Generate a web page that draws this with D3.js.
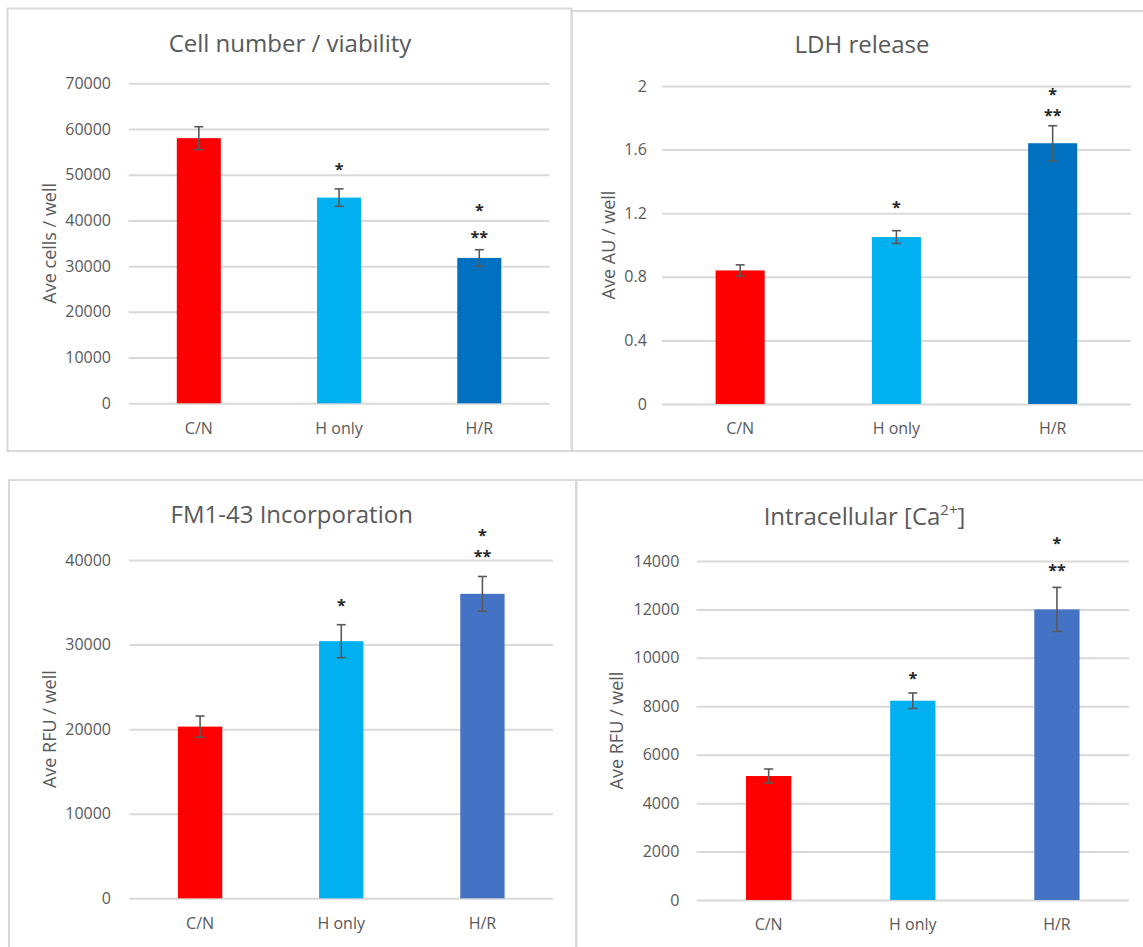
<!DOCTYPE html>
<html>
  <head>
    <meta charset="utf-8" />
    <script src="https://d3js.org/d3.v7.min.js"></script>
    <style>
      body { margin: 0; background: #fff; }
      text { font-family: "Open Sans", sans-serif; }
    </style>
  </head>
  <body>
    <svg id="chart" width="1143" height="947"></svg>
    <script>
      // data
      const categories = ["C/N", "H only", "H/R"];

      const cellValues = [58000, 45000, 31800];
      const cellErrors = [2500, 1900, 1800];
      const cellTicks = [0, 10000, 20000, 30000, 40000, 50000, 60000, 70000];
      const cellStars = [["H only", "*", 51500], ["H/R", "*", 42700], ["H/R", "**", 36600]];

      const ldhValues = [0.84, 1.05, 1.64];
      const ldhErrors = [0.035, 0.04, 0.11];
      const ldhTicks = [0, 0.4, 0.8, 1.2, 1.6, 2];
      const ldhStars = [["H only", "*", 1.25], ["H/R", "*", 1.96], ["H/R", "**", 1.83]];

      const fmValues = [20300, 30400, 36000];
      const fmErrors = [1250, 1950, 2050];
      const fmTicks = [0, 10000, 20000, 30000, 40000];
      const fmStars = [["H only", "*", 34800], ["H/R", "*", 43100], ["H/R", "**", 40700]];

      const caValues = [5120, 8230, 12000];
      const caErrors = [290, 320, 910];
      const caTicks = [0, 2000, 4000, 6000, 8000, 10000, 12000, 14000];
      const caStars = [["H only", "*", 9250], ["H/R", "*", 14800], ["H/R", "**", 13700]];

      const topColors = ["#ff0000", "#00b0f0", "#0070c0"];
      const bottomColors = ["#ff0000", "#00b0f0", "#4472c4"];

      const svg = d3.select("#chart");
      svg.append("rect").attr("width", 1143).attr("height", 947).attr("fill", "#fff");

      const grey = "#595959";

      function drawPanel(p) {
        const g = svg.append("g");

        // panel frame
        g.append("rect")
          .attr("x", p.box[0]).attr("y", p.box[1])
          .attr("width", p.box[2]).attr("height", p.box[3])
          .attr("fill", "none").attr("stroke", "#d9d9d9").attr("stroke-width", 2);

        const x = d3.scaleBand()
          .domain(categories)
          .range([p.x0, p.x1])
          .paddingInner(0.686)
          .paddingOuter(0.343);
        const y = d3.scaleLinear()
          .domain([0, d3.max(p.ticks)])
          .range([p.zero, p.top]);

        // gridlines + tick labels
        const yAxis = g.append("g")
          .attr("transform", "translate(" + p.x0 + ",0)")
          .call(d3.axisLeft(y).tickValues(p.ticks).tickSize(-(p.x1 - p.x0))
            .tickPadding(p.x0 - p.tickRight).tickFormat(d3.format("")));
        yAxis.select(".domain").remove();
        yAxis.selectAll(".tick line").attr("stroke", "#d9d9d9").attr("stroke-width", 2);
        yAxis.selectAll(".tick text")
          .attr("fill", grey).attr("font-size", 16)
          .attr("font-family", "'Open Sans', sans-serif");

        // bars
        g.selectAll("rect.bar")
          .data(p.values)
          .join("rect")
          .attr("class", "bar")
          .attr("x", (d, i) => x(categories[i]))
          .attr("width", x.bandwidth())
          .attr("y", (d) => y(d))
          .attr("height", (d) => y(0) - y(d))
          .attr("fill", (d, i) => p.colors[i]);

        // error bars
        const cx = (i) => x(categories[i]) + x.bandwidth() / 2;
        const err = g.append("g").attr("stroke", grey).attr("stroke-width", 1.6);
        p.values.forEach((v, i) => {
          const hi = y(v + p.errors[i]);
          const lo = y(v - p.errors[i]);
          err.append("line").attr("x1", cx(i)).attr("x2", cx(i)).attr("y1", hi).attr("y2", lo);
          err.append("line").attr("x1", cx(i) - 4.5).attr("x2", cx(i) + 4.5).attr("y1", hi).attr("y2", hi);
          err.append("line").attr("x1", cx(i) - 4.5).attr("x2", cx(i) + 4.5).attr("y1", lo).attr("y2", lo);
        });

        // x labels
        const xAxis = g.append("g")
          .attr("transform", "translate(0," + p.zero + ")")
          .call(d3.axisBottom(x).tickSize(0).tickPadding(19));
        xAxis.select(".domain").remove();
        xAxis.selectAll(".tick text")
          .attr("fill", grey).attr("font-size", 16)
          .attr("font-family", "'Open Sans', sans-serif");

        // significance stars
        g.selectAll("text.star")
          .data(p.stars)
          .join("text")
          .attr("class", "star")
          .attr("x", (d) => x(d[0]) + x.bandwidth() / 2)
          .attr("y", (d) => y(d[2]) + 7.5)
          .attr("text-anchor", "middle")
          .attr("font-family", "'DejaVu Sans', sans-serif")
          .attr("font-size", 16)
          .attr("font-weight", "bold")
          .attr("fill", "#262626")
          .text((d) => d[1]);

        // title
        const t = g.append("text")
          .attr("x", p.titleX).attr("y", p.titleY)
          .attr("text-anchor", "middle")
          .attr("font-size", 24)
          .attr("fill", grey);
        if (p.sup) {
          t.append("tspan").text(p.title);
          t.append("tspan").attr("font-size", 15).attr("dy", -10).text(p.sup);
          t.append("tspan").attr("dy", 10).text("]");
        } else {
          t.text(p.title);
        }

        // y axis title
        g.append("text")
          .attr("transform", "translate(" + p.labelX + "," + (p.top + p.zero) / 2 + ") rotate(-90)")
          .attr("text-anchor", "middle")
          .attr("font-size", 18)
          .attr("fill", grey)
          .text(p.yLabel);
      }

      drawPanel({
        box: [7.5, 8.5, 564, 442.5],
        x0: 128.7, x1: 549.4, top: 83.3, zero: 403.3, tickRight: 111,
        labelX: 55.5, titleX: 290, titleY: 52,
        title: "Cell number / viability", yLabel: "Ave cells / well",
        values: cellValues, errors: cellErrors, ticks: cellTicks, stars: cellStars, colors: topColors
      });
      drawPanel({
        box: [571.7, 11, 600, 440],
        x0: 662, x1: 1130.8, top: 86, zero: 404, tickRight: 646.8,
        labelX: 614.8, titleX: 862, titleY: 53.3,
        title: "LDH release", yLabel: "Ave AU / well",
        values: ldhValues, errors: ldhErrors, ticks: ldhTicks, stars: ldhStars, colors: topColors
      });
      drawPanel({
        box: [9, 480, 567, 500],
        x0: 129.5, x1: 553, top: 560, zero: 898.3, tickRight: 111,
        labelX: 55.5, titleX: 291.7, titleY: 523.3,
        title: "FM1-43 Incorporation", yLabel: "Ave RFU / well",
        values: fmValues, errors: fmErrors, ticks: fmTicks, stars: fmStars, colors: bottomColors
      });
      drawPanel({
        box: [576.5, 480, 600, 500],
        x0: 696.6, x1: 1129, top: 561, zero: 900, tickRight: 679.3,
        labelX: 623, titleX: 864.5, titleY: 525,
        title: "Intracellular [Ca", sup: "2+", yLabel: "Ave RFU / well",
        values: caValues, errors: caErrors, ticks: caTicks, stars: caStars, colors: bottomColors
      });
    </script>
  </body>
</html>
